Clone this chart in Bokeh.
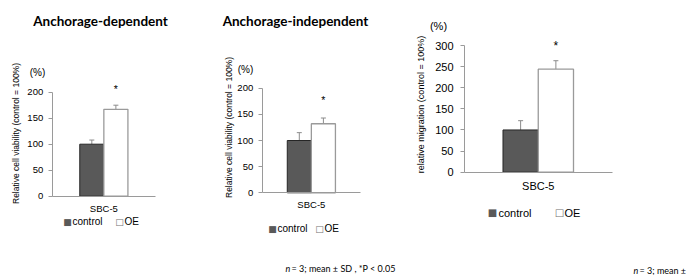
from bokeh.plotting import figure
from bokeh.models import (Range1d, FixedTicker, Label, Whisker, LinearAxis,
                          ColumnDataSource, TeeHead)
from bokeh.embed import file_html
from bokeh.resources import INLINE
from math import pi

# ---- data ----
category = ["SBC-5"]
groups = ["control", "OE"]

titles = ["Anchorage-dependent", "Anchorage-independent"]
ylabels = ["Relative cell viability (control = 100%)",
           "Relative cell viability (control = 100%)",
           "relative migration (control = 100%)"]

dep_values = [100, 167]
dep_sd = [8, 8]
indep_values = [100, 132]
indep_sd = [15, 11]
mig_values = [100, 244]
mig_sd = [22, 20]

dep_ticks = [0, 50, 100, 150, 200]
indep_ticks = [0, 50, 100, 150, 200]
mig_ticks = [0, 50, 100, 150, 200, 250, 300]

star_y = [207, 178, 298]
footnote_n = "n"
footnote = "= 3; mean \u00b1 SD , *P < 0.05"
footnote_cut = "= 3; mean \u00b1"

# ---- style ----
W, H = 691, 275
CTRL = "#595959"
AXC = "#9a9a9a"
ARIAL = "Liberation Sans"

p = figure(width=W, height=H, x_range=Range1d(0, W), y_range=Range1d(0, H),
           x_axis_type=None, y_axis_type=None, output_backend="svg",
           toolbar_location=None, min_border=0)
p.outline_line_color = None
p.xgrid.visible = False
p.ygrid.visible = False
p.background_fill_color = "white"


def panel(name, left, right, zero_row, top_row, ymax, values, sd, ticks,
          bar_w, tick_fs, tick_standoff, sbc_fs, sbc_standoff, star):
    # frame pixel geometry (from top-left of figure) -> ranges
    sx = (right - left)            # px per x unit (axis spans -0.5..0.5)
    xs = -0.5 - left / sx
    p.extra_x_ranges[name] = Range1d(xs, xs + W / sx)
    sy = (zero_row - top_row) / ymax
    ys = -(H - zero_row) / sy
    p.extra_y_ranges[name] = Range1d(ys, ys + H / sy)

    xc = list(range(len(category)))
    src = ColumnDataSource(dict(
        xc=[x - bar_w / 2 for x in xc], xo=[x + bar_w / 2 for x in xc],
        ctrl=[values[0]], oe=[values[1]],
        ctrl_hi=[values[0] + sd[0]], oe_hi=[values[1] + sd[1]]))
    kw = dict(x_range_name=name, y_range_name=name)
    p.vbar(x="xc", top="ctrl", bottom=0, width=bar_w, source=src,
           fill_color=CTRL, line_color="#262626", line_width=1, **kw)
    p.vbar(x="xo", top="oe", bottom=0, width=bar_w, source=src,
           fill_color="white", line_color="#9a9a9a", line_width=1.3, **kw)
    for xcol, lo, hi in (("xc", "ctrl", "ctrl_hi"), ("xo", "oe", "oe_hi")):
        p.add_layout(Whisker(base=xcol, lower=lo, upper=hi, source=src,
                             dimension="height", line_color="#8c8c8c", line_width=1,
                             lower_head=None,
                             upper_head=TeeHead(size=5, line_color="#8c8c8c", line_width=1),
                             **kw))

    ya = LinearAxis(fixed_location=-0.5, bounds=(0, ymax),
                    ticker=FixedTicker(ticks=ticks), **kw)
    ya.axis_line_color = AXC
    ya.major_tick_line_color = AXC
    ya.major_tick_out = 4
    ya.major_tick_in = 0
    ya.minor_tick_line_color = None
    ya.major_label_text_font = ARIAL
    ya.major_label_text_font_size = f"{tick_fs}px"
    ya.major_label_text_color = "#000000"
    ya.major_label_standoff = tick_standoff
    p.add_layout(ya, "left")

    xa = LinearAxis(fixed_location=0, bounds=(-0.5, len(category) - 0.5),
                    ticker=FixedTicker(ticks=xc),
                    major_label_overrides={i: c for i, c in zip(xc, category)}, **kw)
    xa.axis_line_color = AXC
    xa.major_tick_line_color = None
    xa.minor_tick_line_color = None
    xa.major_label_text_font = ARIAL
    xa.major_label_text_font_size = f"{sbc_fs}px"
    xa.major_label_text_color = "#000000"
    xa.major_label_standoff = sbc_standoff
    p.add_layout(xa, "below")

    p.add_layout(Label(x=bar_w / 2, y=star, text="*", text_font=ARIAL,
                       text_font_size=f"{sbc_fs + 1}px", text_align="center",
                       text_color="#000000", text_baseline="middle", **kw))


def add_text(x, y, text, size, font=ARIAL, style="normal", angle=0,
             align="left", baseline="middle", color="#000000"):
    p.add_layout(Label(x=x, y=y, x_units="screen", y_units="screen", text=text,
                       text_font=font, text_font_size=f"{size}px",
                       text_font_style=style, angle=angle, text_align=align,
                       text_baseline=baseline, text_color=color))


def legend(y, xs, size):
    add_text(xs[0], y, "\u25a0", size - 1, font="DejaVu Sans", color=CTRL, align="center")
    add_text(xs[1], y, groups[0], size)
    add_text(xs[2], y, "\u25a1", size - 1, font="DejaVu Sans", color="#707070", align="center")
    add_text(xs[3], y, groups[1], size)


# Panel 1
panel("p1", 51.7, 155.0, 195.7, 91.7, 200, dep_values, dep_sd, dep_ticks,
      0.233, 9.5, 5, 9.5, 1, star_y[0])
add_text(100, 255, titles[0], 13.5, font="Lato", style="bold", align="center")
add_text(37, 203, "(%)", 10, align="center")
add_text(15, 142, ylabels[0], 8.5, angle=pi / 2, align="center")
legend(54, [67, 72, 119, 124], 10)

# Panel 2
panel("p2", 261.7, 360.0, 192.3, 87.7, 200, indep_values, indep_sd, indep_ticks,
      0.245, 9.5, 5, 9.5, 0, star_y[1])
add_text(295, 255, titles[1], 13.5, font="Lato", style="bold", align="center")
add_text(245, 206, "(%)", 10, align="center")
add_text(228, 148, ylabels[1], 8.5, angle=pi / 2, align="center")
legend(47, [272, 277, 319, 324], 10)
add_text(285, 7, footnote_n, 9, font="Lato", style="italic")
add_text(291, 7, footnote, 9, font="Lato")

# Panel 3
panel("p3", 464.0, 611.5, 171.7, 45.0, 300, mig_values, mig_sd, mig_ticks,
      0.239, 11, 7, 11, 2, star_y[2])
add_text(438, 250, "(%)", 11, align="center")
add_text(420, 171, ylabels[2], 9, angle=pi / 2, align="center")
legend(63, [492, 498, 559, 564], 11)
add_text(633, 5, footnote_n, 9, font="Lato", style="italic")
add_text(639, 5, footnote_cut, 9, font="Lato")

open("out.html", "w").write(file_html(p, INLINE))
